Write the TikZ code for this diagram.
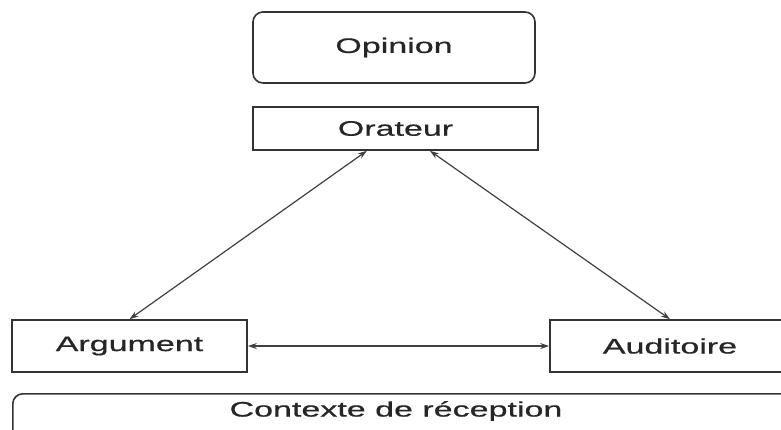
\documentclass[tikz,border=0pt]{standalone}
\usepackage{fontspec}
\setmainfont[FakeStretch=1.62,FakeBold=0.6]{Liberation Sans}
\usetikzlibrary{arrows.meta,calc}
\begin{document}
\begin{tikzpicture}[x=1pt,y=-1pt,
  box/.style={draw=black!80,line width=1.6pt,inner sep=0pt,font=\fontsize{21}{24}\selectfont,text=black!85},
  rbox/.style={box,rounded corners=10pt},
  link/.style={draw=black!75,line width=1.2pt,{Stealth[length=9pt,width=6pt]}-{Stealth[length=9pt,width=6pt]}}]
\useasboundingbox (0,0) rectangle (781,429);
\node[rbox,minimum width=282pt,minimum height=71pt] (opinion) at (394,47.5) {Opinion};
\node[box,minimum width=285pt,minimum height=43pt] (orateur) at (395.5,128.5) {Orateur};
\node[box,minimum width=235pt,minimum height=52pt] (argument) at (129.5,346) {Argument};
\node[box,minimum width=240pt,minimum height=52pt] (auditoire) at (670,346) {Auditoire};
\node[rbox,anchor=north west,minimum width=800pt,minimum height=80pt] (ctx) at (12,393) {};
\node[font=\fontsize{21}{24}\selectfont,text=black!85,inner sep=0pt] (ctxt) at (396,411) {Contexte de réception};
\draw[link] ($(orateur.south west)!0.40!(orateur.south east)$) -- (argument.north);
\draw[link] ($(orateur.south west)!0.62!(orateur.south east)$) -- (auditoire.north);
\draw[link] (argument.east) -- (auditoire.west);
\end{tikzpicture}
\end{document}
